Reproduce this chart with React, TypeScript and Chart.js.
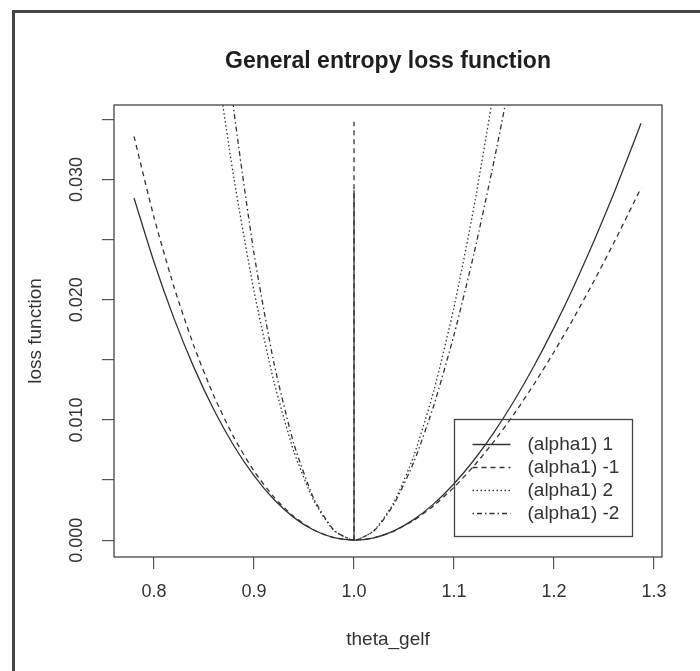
import React, { useEffect, useRef } from 'react';
import { Chart, registerables } from 'chart.js';

Chart.register(...registerables);

// ---- data ----
const chartTitle = 'General entropy loss function';
const xAxisTitle = 'theta_gelf';
const yAxisTitle = 'loss function';

const thetaValues = [
  0.78, 0.80, 0.82, 0.84, 0.86, 0.88, 0.90, 0.92, 0.94, 0.96, 0.98, 1.00, 1.02,
  1.04, 1.06, 1.08, 1.10, 1.12, 1.14, 1.16, 1.18, 1.20, 1.22, 1.24, 1.26, 1.28, 1.287,
];
const lossAlpha1 = [
  0.028461, 0.023144, 0.018451, 0.014353, 0.010823, 0.007833, 0.005361, 0.003382, 0.001875,
  0.000822, 0.000203, 0, 0.000197, 0.000779, 0.001731, 0.003039, 0.00469, 0.006671, 0.008972,
  0.01158, 0.014486, 0.017678, 0.021149, 0.024889, 0.028888, 0.03314, 0.034686,
];
const lossAlphaMinus1 = [
  0.03359, 0.026856, 0.021061, 0.016123, 0.011968, 0.008531, 0.00575, 0.003575, 0.001955,
  0.000845, 0.000205, 0, 0.000195, 0.000759, 0.001665, 0.002887, 0.004401, 0.006186, 0.008221,
  0.010489, 0.012972, 0.015655, 0.018523, 0.021563, 0.024763, 0.02811, 0.029315,
];
const lossAlpha2 = [
  0.105322, 0.086288, 0.069302, 0.054306, 0.041246, 0.030066, 0.020722, 0.013164, 0.00735,
  0.003244, 0.000806, 0, 0.000794, 0.003158, 0.007062, 0.012478, 0.01938, 0.027742, 0.037544,
  0.04876, 0.061372, 0.075356, 0.090698, 0.107378, 0.125376, 0.14468, 0.151741,
];
const lossAlphaMinus2 = [
  0.146733, 0.116212, 0.090308, 0.068528, 0.050436, 0.035656, 0.023846, 0.01471, 0.007984,
  0.003425, 0.000827, 0, 0.000775, 0.002998, 0.006534, 0.011261, 0.017066, 0.023852, 0.031524,
  0.040003, 0.049212, 0.059088, 0.069565, 0.080586, 0.092106, 0.104072, 0.108359,
];
// vertical segments drawn at theta = 1
const centerTheta = [1.0, 1.0];
const centerSolid = [0, 0.0291];
const centerDashed = [0, 0.0348];

const seriesLabels = ['(alpha1) 1', '(alpha1) -1', '(alpha1) 2', '(alpha1) -2'];
const xTicks = [0.8, 0.9, 1.0, 1.1, 1.2, 1.3];
const yTicks = [0, 0.005, 0.01, 0.015, 0.02, 0.025, 0.03, 0.035];
const yLabelled = [0, 0.01, 0.02, 0.03];
const legendAnchor = [1.1, 0.0101];

const FONT = '"Liberation Sans", Arial, Helvetica, sans-serif';
const INK = '#333333';

const dashStyles: number[][] = [[], [5, 4], [1.5, 2.5], [1.5, 3, 5, 3]];

function pts(xs: number[], ys: number[]) {
  return xs.map((x, i) => ({ x, y: ys[i] }));
}

const decorPlugin = {
  id: 'decor',
  afterDraw(chart: any) {
    const { ctx, chartArea: a, scales } = chart;
    ctx.save();
    // plot box
    ctx.setLineDash([]);
    ctx.strokeStyle = '#444';
    ctx.lineWidth = 1.3;
    ctx.strokeRect(a.left, a.top, a.right - a.left, a.bottom - a.top);

    // title
    ctx.fillStyle = '#1e1e1e';
    ctx.font = `bold 23px ${FONT}`;
    ctx.textAlign = 'center';
    ctx.textBaseline = 'middle';
    ctx.fillText(chartTitle, (a.left + a.right) / 2, a.top - 43);

    // legend (transparent background, as in the reference)
    const lx = Math.round(scales.x.getPixelForValue(legendAnchor[0])) + 0.5;
    const ly = Math.round(scales.y.getPixelForValue(legendAnchor[1])) + 0.5;
    const w = 178;
    const h = 117;
    ctx.strokeStyle = '#444';
    ctx.lineWidth = 1.3;
    ctx.strokeRect(lx, ly, w, h);
    ctx.font = `19px ${FONT}`;
    ctx.textAlign = 'left';
    ctx.textBaseline = 'middle';
    const ds = chart.data.datasets;
    for (let i = 0; i < seriesLabels.length; i++) {
      const yy = ly + 25 + i * 23;
      ctx.strokeStyle = INK;
      ctx.lineWidth = 1.3;
      ctx.setLineDash(ds[i].borderDash || []);
      ctx.beginPath();
      ctx.moveTo(lx + 18, yy);
      ctx.lineTo(lx + 56, yy);
      ctx.stroke();
      ctx.setLineDash([]);
      ctx.fillStyle = INK;
      ctx.fillText(seriesLabels[i], lx + 73, yy);
    }

    // outer figure frame
    ctx.fillStyle = '#454545';
    ctx.fillRect(12, 10, chart.width - 12, 3);
    ctx.fillRect(12, 10, 3, chart.height - 10);
    ctx.restore();
  },
};

export default function App() {
  const ref = useRef<HTMLCanvasElement | null>(null);

  useEffect(() => {
    if (!ref.current) return;
    const lineBase = {
      borderColor: INK,
      borderWidth: 1.3,
      pointRadius: 0,
      pointHoverRadius: 0,
      fill: false,
      tension: 0.2,
    };
    const chart = new Chart(ref.current, {
      type: 'line',
      data: {
        datasets: [
          { ...lineBase, label: seriesLabels[0], data: pts(thetaValues, lossAlpha1), borderDash: dashStyles[0] },
          { ...lineBase, label: seriesLabels[1], data: pts(thetaValues, lossAlphaMinus1), borderDash: dashStyles[1] },
          { ...lineBase, label: seriesLabels[2], data: pts(thetaValues, lossAlpha2), borderDash: dashStyles[2] },
          { ...lineBase, label: seriesLabels[3], data: pts(thetaValues, lossAlphaMinus2), borderDash: dashStyles[3] },
          { ...lineBase, tension: 0, label: 'v-solid', data: pts(centerTheta, centerSolid), borderDash: dashStyles[0] },
          { ...lineBase, tension: 0, label: 'v-dashed', data: pts(centerTheta, centerDashed), borderDash: dashStyles[1] },
        ],
      },
      options: {
        animation: false,
        responsive: false,
        maintainAspectRatio: false,
        devicePixelRatio: 1,
        events: [],
        layout: { padding: { left: 0, top: 105, right: 38, bottom: 0 } },
        plugins: {
          legend: { display: false },
          title: { display: false },
          tooltip: { enabled: false },
        },
        scales: {
          x: {
            type: 'linear',
            min: 0.76,
            max: 1.308,
            afterFit: (s: any) => {
              s.height = 114;
            },
            afterBuildTicks: (s: any) => {
              s.ticks = xTicks.map((v) => ({ value: v }));
            },
            grid: {
              display: true,
              drawOnChartArea: false,
              drawTicks: true,
              tickLength: 12,
              color: '#555',
              lineWidth: 1.2,
            },
            border: { display: false },
            ticks: {
              autoSkip: false,
              maxRotation: 0,
              minRotation: 0,
              padding: 12,
              color: INK,
              font: { family: FONT, size: 18 },
              callback: (v: any) => Number(v).toFixed(1),
            },
            title: {
              display: true,
              text: xAxisTitle,
              color: INK,
              font: { family: FONT, size: 19 },
              padding: { top: 0, bottom: 20 },
            },
          },
          y: {
            type: 'linear',
            min: -0.0014,
            max: 0.0362,
            afterFit: (s: any) => {
              s.width = 114;
            },
            afterBuildTicks: (s: any) => {
              s.ticks = yTicks.map((v) => ({ value: v }));
            },
            grid: {
              display: true,
              drawOnChartArea: false,
              drawTicks: true,
              tickLength: 12,
              color: '#555',
              lineWidth: 1.2,
            },
            border: { display: false },
            ticks: {
              autoSkip: false,
              minRotation: 90,
              maxRotation: 90,
              crossAlign: 'center',
              padding: 2,
              color: INK,
              font: { family: FONT, size: 18 },
              callback: (v: any) => {
                const n = Number(v);
                return yLabelled.some((t) => Math.abs(t - n) < 1e-9) ? n.toFixed(3) : '';
              },
            },
            title: {
              display: true,
              text: yAxisTitle,
              color: INK,
              font: { family: FONT, size: 19 },
              padding: { top: 24, bottom: 0 },
            },
          },
        },
      },
      plugins: [decorPlugin],
    } as any);
    return () => chart.destroy();
  }, []);

  return (
    <div style={{ position: 'absolute', left: 0, top: 0, width: 700, height: 671, background: '#fff' }}>
      <canvas ref={ref} width={700} height={671} style={{ display: 'block' }} />
    </div>
  );
}
